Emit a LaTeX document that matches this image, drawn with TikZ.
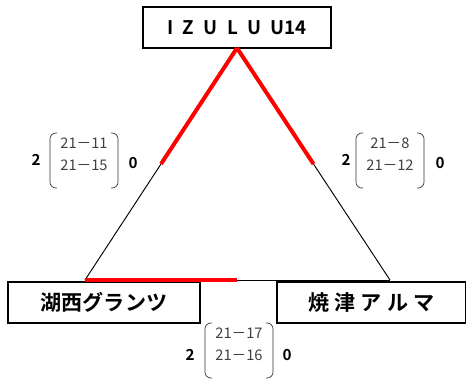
\documentclass[tikz,border=0pt]{standalone}
\usepackage{fontspec}
\setmainfont{Noto Sans CJK JP}[BoldFont={Noto Sans CJK JP Bold}]
\usetikzlibrary{positioning, calc}

% bracket pair round a score node (offsets in px units)
\newcommand{\scorebrackets}[1]{
    \draw[brk] ($(#1)+(-27,-21)$) -- ++(-7,0) -- ++(0,55) -- ++(7,0);
    \draw[brk] ($(#1)+(27,-21)$) -- ++(7,0) -- ++(0,55) -- ++(-7,0);
}
\newcommand{\gap}{\hspace{0.5em}}

\begin{document}
\begin{tikzpicture}[x=0.03cm, y=-0.03cm,
    team/.style={rectangle, draw, line width=1.6pt, minimum height=1.23cm, inner sep=0pt, font=\bfseries\fontsize{18}{20}\selectfont},
    win/.style={red, line width=3.4pt},
    lose/.style={black, line width=0.8pt},
    score/.style={font=\fontsize{12.5}{18.7}\selectfont, text=black!75, align=center, inner sep=0pt},
    games/.style={font=\bfseries\fontsize{13}{15}\selectfont, inner sep=0pt},
    brk/.style={line width=0.6pt, black!80, rounded corners=5pt}]

    \useasboundingbox (0,0) rectangle (466,387);

    % TEAMS
    \node[team, minimum width=5.64cm, font=\bfseries\fontsize{16}{18}\selectfont] (izulu) at (237,27.5) {I\gap Z\gap U\gap L\gap U\gap U14};
    \node[team, minimum width=5.76cm] (kosai) at (104,302.5) {湖西グランツ};
    \node[team, minimum width=5.67cm] (yaizu) at (371.5,302.5) {焼\hspace{0.25em}津\hspace{0.25em}ア\hspace{0.25em}ル\hspace{0.25em}マ};

    % Triangle corners
    \coordinate (apex) at (237,48);
    \coordinate (lv) at (85,280);
    \coordinate (rv) at (390,280);
    \coordinate (bm) at (237,280);

    % Lines (red = winner side)
    \draw[lose] ($(apex)!0.5!(lv)$) -- (lv);
    \draw[lose] ($(apex)!0.5!(rv)$) -- (rv);
    \draw[lose] (bm) -- (rv);
    \draw[win] (apex) -- ($(apex)!0.5!(lv)$);
    \draw[win] (apex) -- ($(apex)!0.5!(rv)$);
    \draw[win] (lv) -- (bm);

    % Scores
    \node[score] (sL) at (84,154) {21－11\\21－15};
    \node[games] (sL2) at (36,160) {2};
    \node[games] (sL0) at (133,163) {0};
    \scorebrackets{sL}

    \node[score] (sR) at (390,154) {21－8\\21－12};
    \node[games] (sR2) at (346,160) {2};
    \node[games] (sR0) at (440,163) {0};
    \scorebrackets{sR}

    \node[score] (sB) at (239,344) {21－17\\21－16};
    \node[games] (sB2) at (190,355) {2};
    \node[games] (sB0) at (287,355) {0};
    \scorebrackets{sB}

\end{tikzpicture}
\end{document}
